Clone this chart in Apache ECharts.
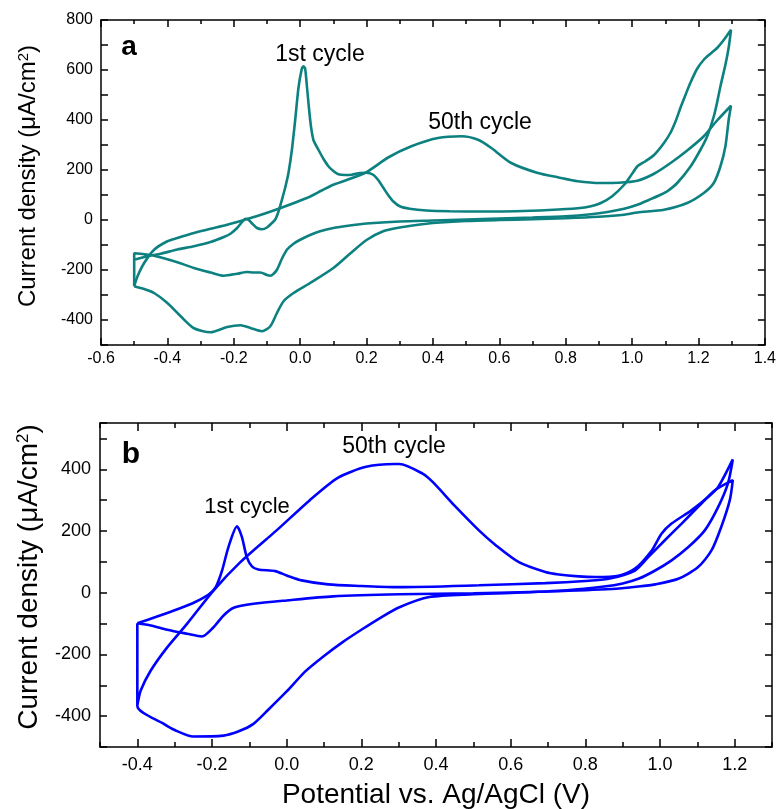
<!DOCTYPE html>
<html>
<head>
<meta charset="utf-8">
<script src="https://cdn.jsdelivr.net/npm/echarts@6/dist/echarts.min.js"></script>
<style>html,body{margin:0;padding:0;background:#fff}#c{width:779px;height:809px}</style>
</head>
<body>
<div id="c"></div>
<script>
// ---------- Panel a (teal) : [potential V, current density µA/cm2] ----------
const aCycle1 = [
 [-0.5,-159],[-0.46,-145],[-0.42,-135],[-0.37,-118],[-0.32,-105],[-0.27,-88],[-0.23,-68],[-0.21,-55],
 [-0.19,-32],[-0.175,-8],[-0.165,5],[-0.155,0],[-0.145,-14],[-0.13,-32],[-0.115,-37],[-0.10,-30],
 [-0.085,-12],[-0.075,2],[-0.065,35],[-0.055,81],[-0.045,130],[-0.035,190],[-0.025,280],[-0.015,400],
 [-0.005,530],[0.005,605],[0.01,615],[0.015,605],[0.02,540],[0.027,440],[0.033,370],[0.04,320],
 [0.055,281],[0.07,245],[0.085,215],[0.1,196],[0.115,183],[0.135,180],[0.155,181],[0.18,188],
 [0.2,189],[0.22,181],[0.235,160],[0.25,130],[0.265,100],[0.28,75],[0.3,55],[0.33,45],[0.38,38],
 [0.45,35],[0.55,34],[0.65,35],[0.75,40],[0.836,47],[0.876,55],[0.906,68],[0.94,95],[0.976,141],
 [1.0,185],[1.016,215],[1.04,235],[1.066,260],[1.096,308],[1.116,350],[1.131,395],[1.146,450],
 [1.161,501],[1.176,550],[1.196,605],[1.216,641],[1.236,665],[1.256,688],[1.276,720],[1.298,761],
 [1.291,690],[1.281,621],[1.266,534],[1.256,470],[1.246,414],[1.226,334],[1.206,281],[1.176,214],
 [1.136,148],[1.106,115],[1.086,101],[1.05,80],[1.016,61],[0.976,45],[0.926,32],[0.876,23],[0.8,15],
 [0.7,10],[0.6,6],[0.5,2],[0.4,-2],[0.3,-6],[0.2,-14],[0.15,-22],[0.1,-32],[0.06,-45],[0.03,-60],
 [0.0,-79],[-0.02,-95],[-0.04,-119],[-0.055,-155],[-0.07,-199],[-0.08,-215],[-0.09,-223],[-0.1,-220],
 [-0.12,-210],[-0.14,-210],[-0.16,-208],[-0.19,-215],[-0.23,-223],[-0.27,-210],[-0.32,-192],
 [-0.37,-169],[-0.44,-143],[-0.47,-137],[-0.5,-133],[-0.5,-265]
];
const aCycle50 = [
 [-0.5,-265],[-0.49,-225],[-0.47,-172],[-0.44,-119],[-0.40,-85],[-0.37,-72],[-0.32,-52],[-0.27,-35],
 [-0.22,-19],[-0.165,2],[-0.12,20],[-0.065,45],[0.02,88],[0.065,118],[0.1,141],[0.195,188],[0.265,250],
 [0.335,295],[0.415,328],[0.486,335],[0.536,321],[0.576,288],[0.636,228],[0.716,188],[0.776,171],
 [0.836,155],[0.906,148],[0.96,149],[1.016,157],[1.066,185],[1.116,228],[1.166,278],[1.216,335],
 [1.256,398],[1.298,457],
 [1.291,401],[1.281,294],[1.266,214],[1.246,148],[1.216,108],[1.166,68],[1.096,41],[1.016,30],
 [0.976,21],[0.9,13],[0.8,7],[0.7,3],[0.6,0],[0.5,-4],[0.4,-12],[0.35,-20],[0.3,-30],[0.25,-45],
 [0.2,-80],[0.15,-135],[0.1,-192],[0.03,-252],[-0.02,-292],[-0.05,-325],[-0.07,-372],[-0.09,-425],
 [-0.115,-445],[-0.15,-432],[-0.18,-421],[-0.22,-428],[-0.27,-449],[-0.32,-433],[-0.36,-385],
 [-0.40,-332],[-0.44,-292],[-0.47,-276],[-0.5,-265]
];
// ---------- Panel b (blue) ----------
const bCycle1 = [
 [-0.4,-99],[-0.351,-79],[-0.289,-52],[-0.245,-30],[-0.209,-6],[-0.19,18],[-0.173,72],[-0.156,148],
 [-0.133,215],[-0.12,181],[-0.107,116],[-0.093,85],[-0.076,75],[-0.031,70],[0.0,56],[0.04,40],
 [0.111,27],[0.2,22],[0.3,18],[0.515,24],[0.693,31],[0.8,38],[0.862,45],[0.933,72],[0.969,116],
 [1.013,170],[1.058,224],[1.102,278],[1.147,332],[1.195,365],
 [1.187,300],[1.164,213],[1.138,137],[1.102,83],[1.049,45],[0.987,27],[0.942,20],[0.871,12],
 [0.7,4],[0.5,-2],[0.302,-5],[0.124,-12],[0.0,-25],[-0.089,-36],[-0.142,-49],[-0.169,-74],
 [-0.196,-112],[-0.227,-142],[-0.267,-133],[-0.32,-120],[-0.364,-106],[-0.4,-99]
];
const bCycle50 = [
 [-0.4,-366],[-0.391,-317],[-0.364,-252],[-0.32,-177],[-0.267,-101],[-0.196,7],[-0.124,99],
 [-0.027,202],[0.062,300],[0.138,373],[0.213,408],[0.29,417],[0.302,417],[0.364,386],[0.391,359],
 [0.453,278],[0.515,202],[0.56,154],[0.622,99],[0.693,67],[0.729,59],[0.782,53],[0.827,51],
 [0.889,55],[0.933,78],[0.978,137],[1.004,191],[1.031,224],[1.084,267],[1.129,310],[1.156,343],
 [1.195,432],
 [1.182,354],[1.156,278],[1.12,202],[1.076,148],[1.031,105],[0.987,72],[0.942,45],[0.9,30],
 [0.85,20],[0.75,8],[0.6,-1],[0.5,-5],[0.382,-14],[0.302,-47],[0.25,-82],[0.2,-120],[0.15,-160],
 [0.1,-205],[0.05,-255],[0.0,-320],[-0.05,-380],[-0.089,-425],[-0.13,-450],[-0.169,-463],
 [-0.25,-466],[-0.3,-445],[-0.329,-425],[-0.4,-366],[-0.4,-99]
];
// tick labels
const aXLabels = [-0.6,-0.4,-0.2,0.0,0.2,0.4,0.6,0.8,1.0,1.2,1.4];
const aYLabels = [-400,-200,0,200,400,600,800];
const bXLabels = [-0.4,-0.2,0.0,0.2,0.4,0.6,0.8,1.0,1.2];
const bYLabels = [-400,-200,0,200,400];

const FONT = '"Liberation Sans", Arial, Helvetica, sans-serif';
const black = {color:'#000', width:1.5};
const tealColor = '#0d8080', blueColor = '#0000ff';

function hasLabel(list, v){ return list.some(t => Math.abs(t - v) < 1e-6); }

function xAx(grid, pos, min, max, interval, opts){
  return Object.assign({
    type:'value', gridIndex:grid, position:pos, min:min, max:max, interval:interval,
    axisLine:{show:true, onZero:false, lineStyle:black},
    axisTick:{show:true, inside:true, length:7, lineStyle:black},
    axisLabel:{show:false}, splitLine:{show:false}
  }, opts);
}
function yAx(grid, pos, min, max, interval, opts){
  return Object.assign({
    type:'value', gridIndex:grid, position:pos, min:min, max:max, interval:interval,
    axisLine:{show:true, onZero:false, lineStyle:black},
    axisTick:{show:true, inside:true, length:7, lineStyle:black},
    axisLabel:{show:false}, splitLine:{show:false}
  }, opts);
}
const bXMajor = bXLabels.slice();

const xAxis = [
  xAx(0,'bottom',-0.6,1.4,0.2,{
    minorTick:{show:true, splitNumber:2, length:4, lineStyle:black},
    axisLabel:{show:true, color:'#000', fontSize:16, fontFamily:FONT, margin:6,
      showMinLabel:true, showMaxLabel:true,
      formatter:v => hasLabel(aXLabels, v) ? v.toFixed(1) : ''}
  }),
  xAx(0,'top',-0.6,1.4,0.2,{ minorTick:{show:true, splitNumber:2, length:4, lineStyle:black} }),
  xAx(1,'bottom',-0.5,1.3,0.1,{
    axisTick:{show:true, inside:true, length:8, lineStyle:black, customValues:bXMajor},
    axisLabel:{show:true, color:'#000', fontSize:18, fontFamily:FONT, margin:9,
      showMinLabel:true, showMaxLabel:true,
      formatter:v => hasLabel(bXLabels, v) ? v.toFixed(1) : ''}
  }),
  xAx(1,'bottom',-0.5,1.3,0.1,{ axisLine:{show:false, onZero:false}, axisTick:{show:true, inside:true, length:5, lineStyle:black} }),
  xAx(1,'top',-0.5,1.3,0.1,{ axisTick:{show:true, inside:true, length:8, lineStyle:black, customValues:bXMajor} }),
  xAx(1,'top',-0.5,1.3,0.1,{ axisLine:{show:false, onZero:false}, axisTick:{show:true, inside:true, length:5, lineStyle:black} })
];
const yAxis = [
  yAx(0,'left',-500,800,100,{
    axisLabel:{show:true, color:'#000', fontSize:16, fontFamily:FONT, margin:8,
      showMinLabel:true, showMaxLabel:true,
      formatter:v => hasLabel(aYLabels, v) ? String(v) : ''}
  }),
  yAx(0,'right',-500,800,100,{}),
  yAx(1,'left',-500,550,100,{
    axisLabel:{show:true, color:'#000', fontSize:18, fontFamily:FONT, margin:9,
      showMinLabel:true, showMaxLabel:true,
      formatter:v => hasLabel(bYLabels, v) ? String(v) : ''}
  }),
  yAx(1,'right',-500,550,100,{})
];

function lineSeries(name, data, xi, yi, color){
  return {name:name, type:'line', data:data, xAxisIndex:xi, yAxisIndex:yi,
    showSymbol:false, symbol:'none', smooth:0.25, clip:true,
    lineStyle:{color:color, width:2.6}, animation:false};
}

function txt(x, y, text, size, opts){
  return Object.assign({type:'text', x:x, y:y, silent:true,
    style:{text:text, fill:'#000', font:(opts && opts.bold ? 'bold ' : '') + size + 'px ' + FONT,
      textAlign:'center', textVerticalAlign:'middle', align:'center', verticalAlign:'middle'}}, opts && opts.el);
}
function yTitle(x, y, size){
  return {type:'text', x:x, y:y, rotation:Math.PI/2, silent:true,
    style:{text:'{n|Current density (\u03bcA/cm}{s|2}{n|)}',
      textAlign:'center', textVerticalAlign:'middle', align:'center', verticalAlign:'middle',
      rich:{ n:{fontSize:size, fontFamily:FONT, fill:'#000', color:'#000'},
             s:{fontSize:Math.round(size*0.62), fontFamily:FONT, fill:'#000', color:'#000', verticalAlign:'top'} }}};
}

const option = {
  animation:false,
  backgroundColor:'#fff',
  grid:[
    {left:101, top:20, width:667, height:325, containLabel:false},
    {left:100, top:423, width:672, height:324, containLabel:false}
  ],
  xAxis:xAxis,
  yAxis:yAxis,
  series:[
    lineSeries('a 1st cycle', aCycle1, 0, 0, tealColor),
    lineSeries('a 50th cycle', aCycle50, 0, 0, tealColor),
    lineSeries('b 1st cycle', bCycle1, 2, 2, blueColor),
    lineSeries('b 50th cycle', bCycle50, 2, 2, blueColor)
  ],
  graphic:[
    txt(129, 47, 'a', 28, {bold:true}),
    txt(320, 55, '1st cycle', 23),
    txt(480, 123, '50th cycle', 23),
    txt(131, 455, 'b', 30, {bold:true}),
    txt(247, 507, '1st cycle', 22),
    txt(394, 447, '50th cycle', 23),
    yTitle(28, 176, 24),
    yTitle(29, 577, 28),
    txt(436, 795, 'Potential vs. Ag/AgCl (V)', 28)
  ]
};

const chart = echarts.init(document.getElementById('c'), null, {renderer:'canvas', width:779, height:809});
chart.setOption(option);
</script>
</body>
</html>
